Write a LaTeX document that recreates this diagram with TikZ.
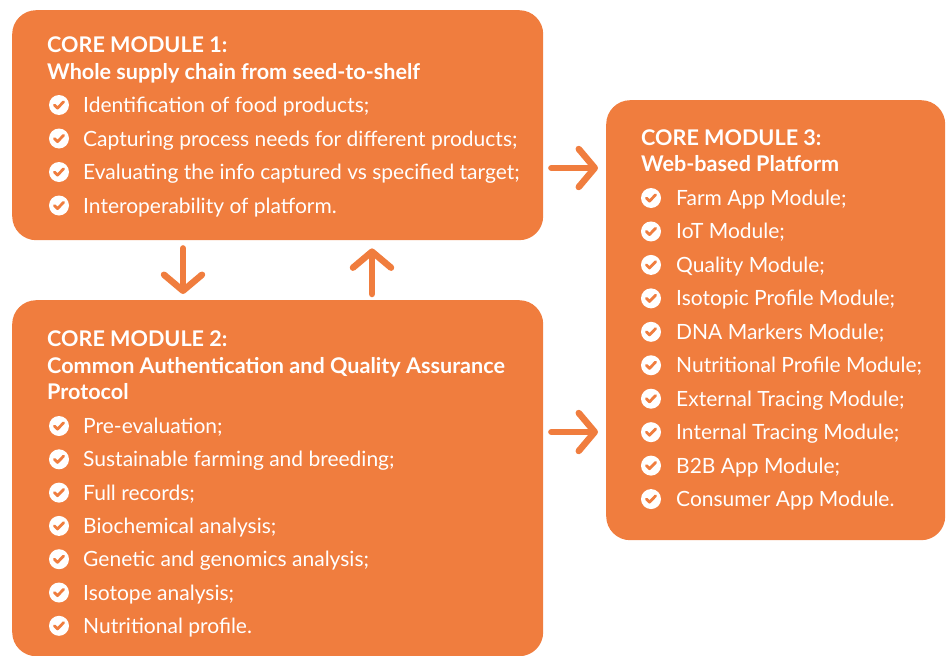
\documentclass[tikz,border=0pt]{standalone}
\usepackage{fontspec}
\setmainfont{Lato}
\usetikzlibrary{arrows.meta,calc}
\definecolor{Tang}{HTML}{F07D3E}
\tikzset{
  panel/.style={fill=Tang, rounded corners=24pt, anchor=north west, inner sep=0pt},
  head/.style={anchor=base west, text=white, inner sep=0pt, font=\fontsize{21.6}{23}\selectfont\bfseries},
  item/.style={anchor=base west, text=white, inner sep=0pt, font=\fontsize{21}{23}\selectfont},
  arr/.style={draw=Tang, line width=6.5pt, line cap=round, line join=round,
              -{Straight Barb[length=16pt,width=38pt,round]}},
  tick/.pic={
    \fill[white] (0,0) circle (10);
    \draw[Tang, line width=2.8pt, line cap=round, line join=round] (-4.6,0) -- (-1.5,3.1) -- (4.6,-3.2);
  },
}
\begin{document}
\begin{tikzpicture}[x=1pt,y=-1pt]
  \useasboundingbox (0,0) rectangle (951,656);
  % the three modules
  \node[panel, minimum width=531pt, minimum height=230pt] (m1) at (12,10) {};
  \node[panel, minimum width=531pt, minimum height=356pt] (m2) at (12,300) {};
  \node[panel, minimum width=339pt, minimum height=440pt] (m3) at (606,100) {};

  \node[head] (h1a) at (47,52.5) {CORE MODULE 1:};
  \node[head] (h1b) at (47,79.5) {Whole supply chain from seed-to-shelf};
  \foreach \t [count=\i] in {Identification of food products;,
      Capturing process needs for different products;,
      Evaluating the info captured vs specified target;,
      Interoperability of platform.}{
    \node[item] (a\i) at (83,{112.5+33.5*(\i-1)}) {\t};
    \pic at (59,{105+33.5*(\i-1)}) {tick};
  }

  \node[head] (h2a) at (47,346.5) {CORE MODULE 2:};
  \node[head] (h2b) at (47,373.5) {Common Authentication and Quality Assurance};
  \node[head] (h2c) at (47,399.5) {Protocol};
  \foreach \t [count=\i] in {Pre-evaluation;, Sustainable farming and breeding;,
      Full records;, Biochemical analysis;, Genetic and genomics analysis;,
      Isotope analysis;, Nutritional profile.}{
    \node[item] (b\i) at (83,{433.5+33.3*(\i-1)}) {\t};
    \pic at (59,{426+33.3*(\i-1)}) {tick};
  }

  \node[head] (h3a) at (641,145.5) {CORE MODULE 3:};
  \node[head] (h3b) at (641,171.5) {Web-based Platform};
  \foreach \t [count=\i] in {Farm App Module;, IoT Module;, Quality Module;,
      Isotopic Profile Module;, DNA Markers Module;, Nutritional Profile Module;,
      External Tracing Module;, Internal Tracing Module;, B2B App Module;,
      Consumer App Module.}{
    \node[item] (c\i) at (676,{205.5+33.45*(\i-1)}) {\t};
    \pic at (651,{198+33.45*(\i-1)}) {tick};
  }

  % links
  \draw[arr, shorten <=8pt, shorten >=6pt] ($(m1.south west)+(171,0)$) -- ($(m2.north west)+(171,0)$);
  \draw[arr, shorten <=6pt, shorten >=8pt] ($(m2.north west)+(360,0)$) -- ($(m1.south west)+(360,0)$);
  \draw[arr, shorten <=8pt, shorten >=8pt] ($(m1.north east)+(0,158)$) -- ($(m3.north west)+(0,68)$);
  \draw[arr, shorten <=8pt, shorten >=8pt] ($(m2.north east)+(0,132)$) -- ($(m3.north west)+(0,332)$);
\end{tikzpicture}
\end{document}
